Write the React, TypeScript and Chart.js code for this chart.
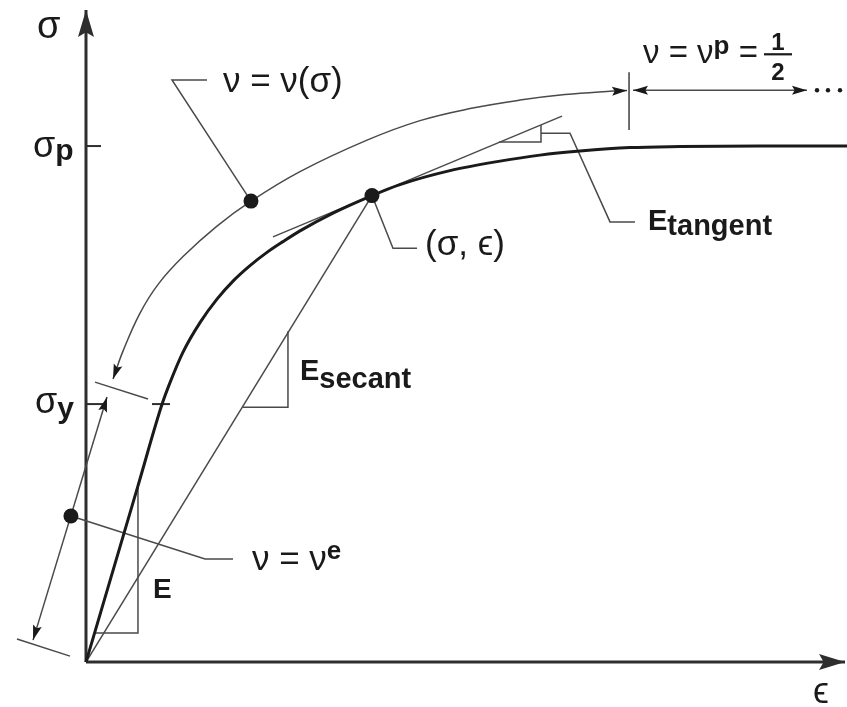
import { useEffect, useRef } from "react";
import { Chart, registerables } from "chart.js";

Chart.register(...registerables);

// Strain ε in multiples of the yield strain, stress σ in multiples of σp.
const curveStrain = [0, 0.683, 1.0, 1.104, 1.275, 1.498, 1.721, 1.932, 2.155, 2.378, 2.589, 2.812, 3.246, 3.758, 4.126, 4.783, 5.44, 5.966, 6.491, 7.148, 7.806, 8.857, 10.0];
const curveStress = [0, 0.3415, 0.5, 0.5416, 0.6007, 0.6579, 0.7034, 0.7383, 0.7683, 0.7939, 0.8148, 0.8356, 0.87, 0.904, 0.9253, 0.9524, 0.9708, 0.9824, 0.9902, 0.997, 0.999, 1.0, 1.0];

// Reference levels on the stress axis
const sigmaP = 1.0;
const sigmaY = 0.5;

// Current state (σ, ϵ) on the curve
const stateStrain = 3.758;
const stateStress = 0.904;

// Arc showing ν = ν(σ) along the plastic range
const arcStrain = [0.355, 0.486, 0.71, 0.95, 1.275, 1.721, 2.168, 2.812, 3.693, 4.389, 5.046, 5.703, 6.294, 6.925, 7.109];
const arcStress = [0.5484, 0.6026, 0.6763, 0.7325, 0.7858, 0.8449, 0.8933, 0.9505, 1.0115, 1.0493, 1.0726, 1.089, 1.0997, 1.1065, 1.1078];
const arcDot = { x: 2.168, y: 0.8933 };

// Elastic range ν = νe (double arrow with end marks)
const elasticArrowStrain = [-0.696, 0.276];
const elasticArrowStress = [0.0426, 0.5136];
const elasticDot = { x: -0.198, y: 0.283 };
const elasticCapTopStrain = [0.118, 0.815];
const elasticCapTopStress = [0.5426, 0.5097];
const elasticCapLowStrain = [-0.907, -0.21];
const elasticCapLowStress = [0.0446, 0.0116];

// Fully plastic range ν = νp = 1/2
const plasticTickStrain = [7.136, 7.136];
const plasticTickStress = [1.031, 1.143];
const plasticArrowStrain = [7.188, 9.474];
const plasticArrowStress = [1.108, 1.108];
const ellipsisStrain = [9.606, 9.75, 9.908];
const ellipsisStress = [1.108, 1.108, 1.108];

// Tangent modulus line and slope triangle
const tangentStrain = [2.457, 6.255];
const tangentStress = [0.824, 1.058];
const tangentTriStrain = [5.427, 5.979, 5.979];
const tangentTriStress = [1.008, 1.008, 1.041];

// Secant modulus line and slope triangle
const secantStrain = [0, stateStrain];
const secantStress = [0, stateStress];
const secantTriStrain = [2.063, 2.654, 2.654];
const secantTriStress = [0.494, 0.494, 0.641];

// Elastic modulus slope triangle
const elasticTriStrain = [0.112, 0.683, 0.683];
const elasticTriStress = [0.0562, 0.0562, 0.3415];

// Leader lines to the labels
const leadNuSigmaStrain = [1.59, 1.13, arcDot.x];
const leadNuSigmaStress = [1.128, 1.128, arcDot.y];
const leadStateStrain = [stateStrain, 4.034, 4.35];
const leadStateStress = [stateStress, 0.802, 0.802];
const leadTangentStrain = [5.979, 6.36, 6.886, 7.214];
const leadTangentStress = [1.025, 1.025, 0.853, 0.853];
const leadNuEStrain = [elasticDot.x, 1.564, 1.932];
const leadNuEStress = [elasticDot.y, 0.2, 0.2];

// Axes
const axisYTop = 1.2636;
const axisXEnd = 9.974;

const FONT = '"Liberation Sans", Arial, "DejaVu Sans", sans-serif';
const reg = (s: number) => `${s}px ${FONT}`;
const bold = (s: number) => `bold ${s}px ${FONT}`;

const INK = "#1a1a1a";
const AXIS = "#2e2e2e";
const THIN = "#4a4a4a";

type P = { x: number; y: number };
const pts = (xs: number[], ys: number[]): P[] => xs.map((x, i) => ({ x, y: ys[i] }));

type Run = { text: string; font: string; shift?: number };
type Label = { x: number; y: number; runs: Run[] };

const labels: Label[] = [
  { x: -0.644, y: 1.209, runs: [{ text: "σ", font: reg(38) }] },
  { x: 9.553, y: -0.0795, runs: [{ text: "ϵ", font: reg(36) }] },
  { x: -0.696, y: 0.979, runs: [{ text: "σ", font: reg(36) }, { text: "p", font: bold(30), shift: 3 }] },
  { x: -0.67, y: 0.4826, runs: [{ text: "σ", font: reg(36) }, { text: "y", font: bold(30), shift: 5 }] },
  { x: 1.8, y: 1.1047, runs: [{ text: "ν = ν(σ)", font: reg(35) }] },
  { x: 4.455, y: 0.789, runs: [{ text: "(σ, ϵ)", font: reg(35) }] },
  { x: 2.812, y: 0.5465, runs: [{ text: "E", font: bold(29) }, { text: "secant", font: bold(29), shift: 8 }] },
  { x: 7.385, y: 0.837, runs: [{ text: "E", font: bold(29) }, { text: "tangent", font: bold(29), shift: 5 }] },
  { x: 0.88, y: 0.124, runs: [{ text: "E", font: bold(28) }] },
  { x: 2.181, y: 0.178, runs: [{ text: "ν = ν", font: reg(35) }, { text: "e", font: bold(26), shift: -11 }] },
  {
    x: 7.319,
    y: 1.161,
    runs: [
      { text: "ν = ν", font: reg(33) },
      { text: "p", font: bold(26), shift: -9 },
      { text: " = ", font: reg(33) },
    ],
  },
];

// Fraction ½ of the plastic Poisson ratio label
const fraction = { x: 9.093, y: 1.178, num: "1", den: "2", font: bold(24) };

type Head = { tip: P; from: P; len: number; half: number };

function drawHead(ctx: CanvasRenderingContext2D, chart: Chart, h: Head, color: string) {
  const sx = chart.scales.x;
  const sy = chart.scales.y;
  const tx = sx.getPixelForValue(h.tip.x);
  const ty = sy.getPixelForValue(h.tip.y);
  const fx = sx.getPixelForValue(h.from.x);
  const fy = sy.getPixelForValue(h.from.y);
  let dx = tx - fx;
  let dy = ty - fy;
  const d = Math.hypot(dx, dy) || 1;
  dx /= d;
  dy /= d;
  const bx = tx - dx * h.len;
  const by = ty - dy * h.len;
  const nx = -dy;
  const ny = dx;
  ctx.beginPath();
  ctx.moveTo(tx, ty);
  ctx.lineTo(bx + nx * h.half, by + ny * h.half);
  ctx.lineTo(tx - dx * h.len * 0.82, ty - dy * h.len * 0.82);
  ctx.lineTo(bx - nx * h.half, by - ny * h.half);
  ctx.closePath();
  ctx.fillStyle = color;
  ctx.fill();
}

const arcPts = pts(arcStrain, arcStress);
const elasticArrowPts = pts(elasticArrowStrain, elasticArrowStress);
const plasticArrowPts = pts(plasticArrowStrain, plasticArrowStress);

const heads: { h: Head; color: string }[] = [
  { h: { tip: { x: 0, y: axisYTop }, from: { x: 0, y: 0 }, len: 27, half: 8 }, color: AXIS },
  { h: { tip: { x: axisXEnd, y: 0 }, from: { x: 0, y: 0 }, len: 26, half: 8 }, color: AXIS },
  { h: { tip: arcPts[arcPts.length - 1], from: arcPts[arcPts.length - 2], len: 15, half: 4.5 }, color: INK },
  { h: { tip: arcPts[0], from: arcPts[1], len: 15, half: 4.5 }, color: INK },
  { h: { tip: elasticArrowPts[1], from: elasticArrowPts[0], len: 15, half: 4.5 }, color: INK },
  { h: { tip: elasticArrowPts[0], from: elasticArrowPts[1], len: 15, half: 4.5 }, color: INK },
  { h: { tip: plasticArrowPts[0], from: plasticArrowPts[1], len: 15, half: 4.5 }, color: INK },
  { h: { tip: plasticArrowPts[1], from: plasticArrowPts[0], len: 15, half: 4.5 }, color: INK },
];

const overlay = {
  id: "overlay",
  afterDatasetsDraw(chart: Chart) {
    const ctx = chart.ctx;
    const sx = chart.scales.x;
    const sy = chart.scales.y;
    ctx.save();
    heads.forEach(({ h, color }) => drawHead(ctx, chart, h, color));

    ctx.fillStyle = INK;
    ctx.textBaseline = "alphabetic";
    ctx.textAlign = "left";
    labels.forEach((lab) => {
      let px = sx.getPixelForValue(lab.x);
      const py = sy.getPixelForValue(lab.y);
      lab.runs.forEach((r) => {
        ctx.font = r.font;
        ctx.fillText(r.text, px, py + (r.shift ?? 0));
        px += ctx.measureText(r.text).width;
      });
    });

    const fx = sx.getPixelForValue(fraction.x);
    const fy = sy.getPixelForValue(fraction.y);
    ctx.font = fraction.font;
    ctx.textAlign = "center";
    ctx.fillText(fraction.num, fx, fy - 4);
    ctx.fillText(fraction.den, fx, fy + 26);
    ctx.fillRect(fx - 14, fy - 1, 28, 2.2);
    ctx.restore();
  },
};

const seg = (data: P[], color: string, width: number, extra: Record<string, unknown> = {}) => ({
  data,
  showLine: true,
  borderColor: color,
  backgroundColor: color,
  borderWidth: width,
  pointRadius: 0,
  pointHoverRadius: 0,
  fill: false,
  tension: 0,
  clip: false as const,
  ...extra,
});

const dots = (data: P[], radius: number) => ({
  data,
  showLine: false,
  pointRadius: radius,
  pointHoverRadius: radius,
  pointBackgroundColor: INK,
  pointBorderColor: INK,
  pointBorderWidth: 0,
  clip: false as const,
});

export default function App() {
  const ref = useRef<HTMLCanvasElement | null>(null);

  useEffect(() => {
    if (!ref.current) return;
    const chart = new Chart(ref.current, {
      type: "scatter",
      data: {
        datasets: [
          dots([arcDot, { x: stateStrain, y: stateStress }, elasticDot], 7.5),
          dots(pts(ellipsisStrain, ellipsisStress), 2.2),
          seg(pts(curveStrain, curveStress), INK, 3, { cubicInterpolationMode: "monotone" }),
          seg(arcPts, THIN, 1.5, { tension: 0.4 }),
          seg(elasticArrowPts, THIN, 1.5),
          seg(pts(elasticCapTopStrain, elasticCapTopStress), THIN, 1.5),
          seg(pts(elasticCapLowStrain, elasticCapLowStress), THIN, 1.5),
          seg(pts(plasticTickStrain, plasticTickStress), THIN, 1.6),
          seg(plasticArrowPts, THIN, 1.5),
          seg(pts(tangentStrain, tangentStress), THIN, 1.5),
          seg(pts(tangentTriStrain, tangentTriStress), THIN, 1.5),
          seg(pts(secantStrain, secantStress), THIN, 1.5),
          seg(pts(secantTriStrain, secantTriStress), THIN, 1.5),
          seg(pts(elasticTriStrain, elasticTriStress), THIN, 1.5),
          seg(pts(leadNuSigmaStrain, leadNuSigmaStress), THIN, 1.5),
          seg(pts(leadStateStrain, leadStateStress), THIN, 1.5),
          seg(pts(leadTangentStrain, leadTangentStress), THIN, 1.5),
          seg(pts(leadNuEStrain, leadNuEStress), THIN, 1.5),
          seg([{ x: 0, y: sigmaP }, { x: 0.197, y: sigmaP }], AXIS, 2),
          seg([{ x: 0, y: sigmaY }, { x: 0.263, y: sigmaY }], AXIS, 2),
          seg([{ x: 0.867, y: sigmaY }, { x: 1.104, y: sigmaY }], AXIS, 2),
          seg([{ x: 0, y: 0 }, { x: 0, y: axisYTop }], AXIS, 3),
          seg([{ x: 0, y: 0 }, { x: axisXEnd, y: 0 }], AXIS, 3),
        ],
      },
      options: {
        animation: false,
        responsive: false,
        devicePixelRatio: 1,
        layout: { padding: 0, autoPadding: false },
        plugins: { legend: { display: false }, tooltip: { enabled: false } },
        events: [],
        scales: {
          x: { type: "linear", min: -1.13, max: 10.0, display: false },
          y: { type: "linear", min: -0.087, max: 1.283, display: false },
        },
      },
      plugins: [overlay],
    });
    return () => chart.destroy();
  }, []);

  return (
    <div style={{ position: "absolute", left: 0, top: 0, background: "#fff" }}>
      <canvas ref={ref} width={847} height={707} style={{ display: "block" }} />
    </div>
  );
}
